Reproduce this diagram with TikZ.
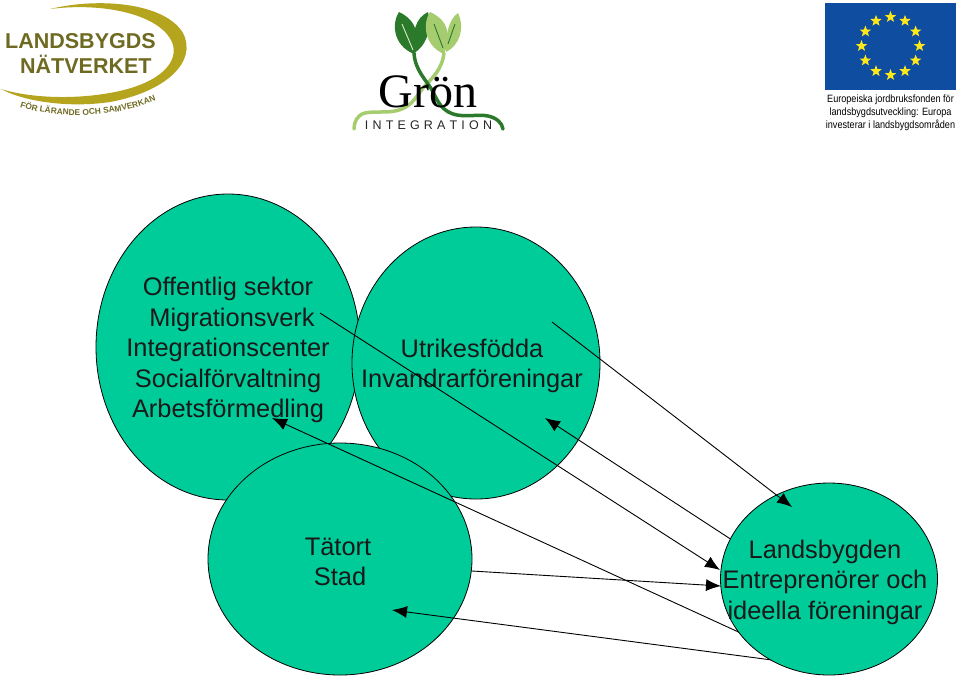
\documentclass[tikz,border=0pt]{standalone}
\usepackage{fontspec}
\setmainfont{Liberation Sans}
\newfontfamily\serifgron{Liberation Serif}
\newfontfamily\eufont[FakeStretch=0.86]{Liberation Sans}
\usetikzlibrary{arrows.meta,shapes.geometric,decorations.text}
\definecolor{bubble}{HTML}{00CC99}
\definecolor{gold}{HTML}{B5A51E}
\definecolor{golddark}{HTML}{6F6A22}
\definecolor{leafdark}{HTML}{2B7A2B}
\definecolor{leaflight}{HTML}{A6CC70}
\definecolor{eublue}{HTML}{0F4DA0}
\definecolor{eustar}{HTML}{FFE81A}
\tikzset{
  bubblenode/.style={ellipse,draw=black,fill=bubble,line width=.8pt,inner sep=0pt,minimum width=#1},
  bubbletext/.style={font=\fontsize{25.4}{30.5}\selectfont,align=center,text=black!90},
  link/.style={draw=black,line width=.9pt,-{Latex[length=15pt,width=12pt]}},
  eustarnode/.style={star,star points=5,star point ratio=2.4,fill=eustar,inner sep=0pt,minimum size=12pt},
  logotext/.style={font=\bfseries\fontsize{21.5}{26}\selectfont,text=golddark,inner sep=0pt,anchor=base west}
}
\begin{document}
\begin{tikzpicture}[x=1pt,y=-1pt]
\useasboundingbox (0,0) rectangle (960,678);
% --- Landsbygds natverket logo
\fill[gold] (50,9) .. controls (100,-3) and (165,3) .. (183,33)
  .. controls (198,62) and (165,92) .. (110,102)
  .. controls (70,108) and (25,102) .. (1,89)
  .. controls (30,98) and (75,100) .. (115,92)
  .. controls (160,83) and (180,62) .. (172,42)
  .. controls (160,15) and (105,2) .. (50,9) -- cycle;
\node[logotext] (lbone) at (5,48) {LANDSBYGDS};
\node[logotext] (lbtwo) at (20,73) {NÄTVERKET};
\path[postaction={decorate,decoration={text along path,text align=left,
  text={|\bfseries\fontsize{8.4}{9}\selectfont\color{golddark}|FÖR LÄRANDE OCH SAMVERKAN }}}]
  (20,107) .. controls (60,120) and (115,118) .. (160,99);
% --- Gron integration logo
\draw[leaflight,line width=3.5pt,line cap=round] (444,53) .. controls (442,70) and (432,78) .. (423,88)
  .. controls (414,100) and (410,108) .. (395,111)
  .. controls (385,113) and (375,111) .. (365,113) .. controls (357,115) and (354,122) .. (354,129);
\draw[leafdark,line width=3.5pt,line cap=round] (414,53) .. controls (415,70) and (426,80) .. (432,90)
  .. controls (438,102) and (442,112) .. (457,115)
  .. controls (470,117) and (478,114) .. (488,116) .. controls (497,118) and (502,123) .. (503,129);
\fill[leafdark] (399,12) .. controls (392,22) and (392,45) .. (414,54)
  .. controls (421,35) and (416,20) .. (399,12) -- cycle;
\fill[leafdark] (428,12) .. controls (416,18) and (412,30) .. (414,53)
  .. controls (428,45) and (432,25) .. (428,12) -- cycle;
\fill[leaflight] (458,13) .. controls (448,20) and (446,35) .. (446,52)
  .. controls (460,45) and (465,28) .. (458,13) -- cycle;
\fill[leaflight] (430,12) .. controls (423,22) and (423,45) .. (444,54)
  .. controls (452,35) and (448,20) .. (430,12) -- cycle;
\draw[white!60!leaflight,line width=.9pt] (402,24) -- (413,50);
\draw[leafdark,line width=.9pt] (434,24) -- (443,48) (455,24) -- (448,44);
\node[font=\serifgron\fontsize{48}{48}\selectfont,text=black,inner sep=0pt,anchor=base] (gron) at (428,107) {Grön};
\node[font=\fontsize{12.5}{13}\selectfont,text=black!85,inner sep=0pt,anchor=base] (integ) at (428.5,129) {I\,\,N\,\,T\,\,E\,\,G\,\,R\,\,A\,\,T\,\,I\,\,O\,\,N};
% --- EU flag
\fill[eublue] (825,3) rectangle (956,90);
\foreach \a in {0,30,...,330}
  \node[eustarnode] at ({890.5+29*sin(\a)},{46-29*cos(\a)}) {};
\node[font=\eufont\fontsize{10.6}{13}\selectfont,text=black,align=center,inner sep=0pt,anchor=north] (eutext) at (890.5,95)
  {Europeiska jordbruksfonden för\\landsbygdsutveckling: Europa\\investerar i landsbygdsområden};
% --- bubbles
\node[bubblenode=264pt,minimum height=306pt] (offentlig) at (228,347) {};
\node[bubblenode=248pt,minimum height=272pt] (utrikes) at (476,363) {};
\node[bubblenode=264pt,minimum height=232pt] (tatort) at (340,559) {};
\node[bubbletext] (offtext) at (228,350) {Offentlig sektor\\\hspace*{8pt}Migrationsverk\\Integrationscenter\\Socialförvaltning\\Arbetsförmedling};
\node[bubbletext] (utrtext) at (472,366) {Utrikesfödda\\Invandrarföreningar};
\node[bubbletext] (tattext) at (338,562) {Tätort\\\hspace*{4pt}Stad};
% --- free ends of connectors
\coordinate (offout) at (320,313);
\coordinate (offin) at (272,418);
\coordinate (utrout) at (552,322);
\coordinate (utrin) at (545,418);
\coordinate (tatout) at (472,571);
\coordinate (tatin) at (392,610);
\coordinate (landinA) at (720,570);
\coordinate (landinB) at (721,586);
\coordinate (landinC) at (792,507);
\coordinate (landoutA) at (732,540);
\coordinate (landoutB) at (745,635);
\coordinate (landoutC) at (772,660);
% --- connectors under the right bubble
\draw[link] (offout) -- (landinA);
\draw[link] (tatout) -- (landinB);
\draw[link] (landoutA) -- (utrin);
\draw[link] (landoutB) -- (offin);
\draw[link] (landoutC) -- (tatin);
\node[bubblenode=217pt,minimum height=192pt] (land) at (829,579) {};
\node[bubbletext] (landtext) at (825,582) {Landsbygden\\Entreprenörer och\\ideella föreningar};
\draw[link] (utrout) -- (landinC);
\end{tikzpicture}
\end{document}
